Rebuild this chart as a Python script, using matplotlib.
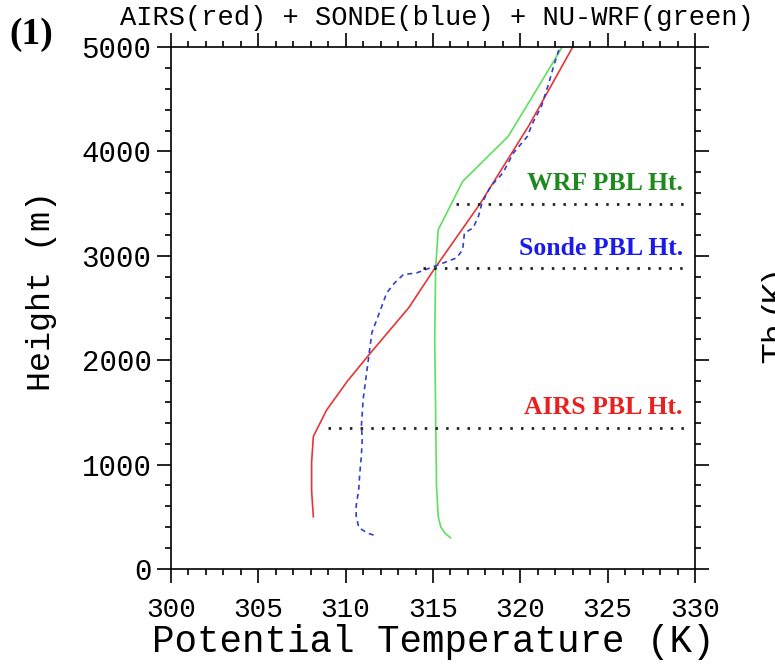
import matplotlib.pyplot as plt
from matplotlib.ticker import MultipleLocator

# AIRS retrieval (red)
airs_h = [500, 750, 1020, 1270, 1520, 1800, 2065, 2500, 2880, 3500, 4250, 5000]
airs_t = [308.15, 308.05, 308.05, 308.15, 308.9, 310.1, 311.4, 313.6, 315.1, 317.7, 320.5, 323.0]

# sonde (blue, dashed)
sonde_h = [325, 344, 398, 510, 605, 765, 900, 1083, 1250, 1370, 1625, 2008, 2263, 2486,
           2645, 2740, 2820, 2836, 2894, 2980, 3059, 3219, 3267, 3378, 3505, 3665,
           3793, 3984, 4143, 4270, 4429, 4637, 4812, 4971, 5000]
sonde_t = [311.6, 311.24, 310.75, 310.6, 310.6, 310.75, 310.8, 310.9, 310.95, 310.9, 311.0,
           311.3, 311.5, 312.0, 312.35, 312.8, 313.3, 314.06, 315.0, 316.35, 316.7,
           316.8, 317.3, 317.6, 317.8, 318.3, 319.0, 319.6, 320.4, 320.7, 321.2,
           321.6, 321.9, 322.2, 322.15]

# NU-WRF (green)
wrf_h = [300, 340, 400, 500, 800, 1500, 2200, 2880, 3250, 3713, 4143, 4500, 5000]
wrf_t = [316.0, 315.7, 315.45, 315.3, 315.2, 315.15, 315.1, 315.15, 315.3, 316.7, 319.3, 320.6, 322.4]

# PBL heights
pbl_names = ['WRF PBL Ht.', 'Sonde PBL Ht.', 'AIRS PBL Ht.']
pbl_height = [3500, 2885, 1355]
pbl_start = [316.3, 314.4, 309.0]
pbl_label_y = [3690, 3070, 1550]
pbl_colors = ['#1e8a1e', '#1a1aee', '#e82020']

mono = 'Liberation Mono'
serif = 'Liberation Serif'

fig = plt.figure(figsize=(7.75, 6.66), dpi=100)
ax = fig.add_axes([171 / 775, 1 - 569 / 666, 524 / 775, 522 / 666])

ax.plot(airs_t, airs_h, color='#e83434', lw=1.2)
ax.plot(wrf_t, wrf_h, color='#5ee05e', lw=1.2)
ax.plot(sonde_t, sonde_h, color='#3040d0', lw=1.2, linestyle=(0, (3, 2.5)))

for name, h, t0, c, ly in zip(pbl_names, pbl_height, pbl_start, pbl_colors, pbl_label_y):
    ax.plot([t0, 329.4], [h, h], color='#222222', lw=2, linestyle=(0, (0.9, 2.95)))
    ax.text(329.3, ly, name, color=c, ha='right', va='center',
            family=serif, fontweight='bold', fontsize=18.5)

ax.set_xlim(300, 330)
ax.set_ylim(0, 5000)
ax.xaxis.set_major_locator(MultipleLocator(5))
ax.xaxis.set_minor_locator(MultipleLocator(1))
ax.yaxis.set_major_locator(MultipleLocator(1000))
ax.yaxis.set_minor_locator(MultipleLocator(200))

ax.tick_params(which='both', direction='out', top=True, right=True, width=1.2)
ax.tick_params(which='major', length=10)
ax.tick_params(which='minor', length=4.5)
ax.tick_params(axis='x', pad=10)
ax.tick_params(axis='y', pad=4)
for lab in ax.get_xticklabels():
    lab.set_family(mono)
    lab.set_fontsize(20)
for lab in ax.get_yticklabels():
    lab.set_family(mono)
    lab.set_fontsize(21)
for sp in ax.spines.values():
    sp.set_linewidth(1.2)

ax.set_xlabel('Potential Temperature (K)', family=mono, fontsize=27, labelpad=1)
ax.set_ylabel('Height (m)', family=mono, fontsize=24)
ax.yaxis.set_label_coords(-0.218, 0.532)

fig.text(437 / 775, 1 - 18 / 666, 'AIRS(red) + SONDE(blue) + NU-WRF(green)',
         family=mono, fontsize=19.5, ha='center', va='center')
fig.text(31 / 775, 1 - 34 / 666, '(1)', family=serif, fontweight='bold',
         fontsize=27, ha='center', va='center')
# label of the neighbouring panel, cut by the edge
fig.text(762 / 775, 1 - 363 / 666, 'Th (K)', family='Liberation Sans', fontsize=24,
         rotation=90, ha='left', va='bottom')

fig.savefig('out.png', dpi=100)
